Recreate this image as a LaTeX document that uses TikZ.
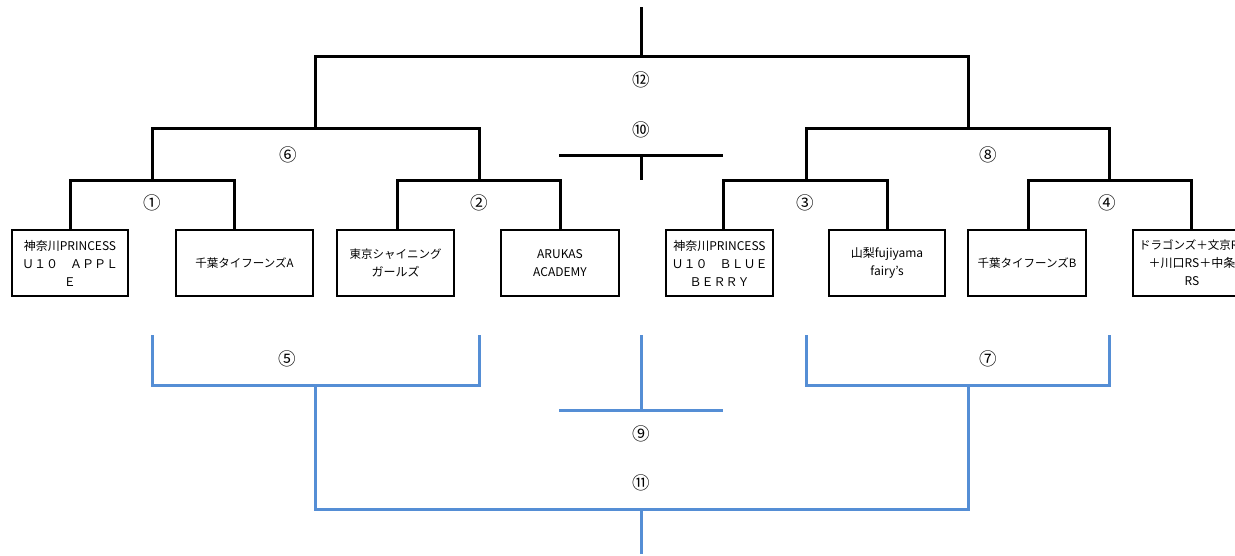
\documentclass[tikz,border=0pt]{standalone}
\usepackage{fontspec}
\setmainfont{Noto Sans CJK JP}
\definecolor{bblue}{RGB}{85,142,213}
\begin{document}
\begin{tikzpicture}[x=1pt,y=-1pt,
  bk/.style={line width=3pt,black},
  bl/.style={line width=3pt,bblue},
  team/.style={draw,line width=2.5pt,minimum height=66pt,inner sep=0pt,align=center,font=\fontsize{12}{18}\selectfont},
  num/.style={inner sep=0pt,font=\fontsize{17.5}{17.5}\selectfont}]
\useasboundingbox (0,0) rectangle (1235,555);
\clip (0,0) rectangle (1235,555);
% team boxes
\node[team,minimum width=116pt] (b1) at (70,263) {神奈川PRINCESS\\Ｕ１０　ＡＰＰＬ\\Ｅ};
\node[team,minimum width=137pt] (b2) at (244.5,263) {\fontsize{11.5}{18}\selectfont 千葉タイフーンズA};
\node[team,minimum width=117pt] (b3) at (395.5,263) {\fontsize{11.5}{18}\selectfont 東京シャイニング\\ガールズ};
\node[team,minimum width=118pt] (b4) at (560,263) {ARUKAS\\ACADEMY};
\node[team,minimum width=107pt] (b5) at (719.5,263) {神奈川PRINCESS\\Ｕ１０　ＢＬＵＥ\\ＢＥＲＲＹ};
\node[team,minimum width=116pt] (b6) at (887,263) {山梨fujiyama\\fairy’s};
\node[team,minimum width=118pt] (b7) at (1027,263) {\fontsize{11.5}{18}\selectfont 千葉タイフーンズB};
\node[team,minimum width=118pt] (b8) at (1192,263) {\fontsize{11.5}{18}\selectfont ドラゴンズ＋文京RS\\＋川口RS＋中条\\RS};
% coordinates
\coordinate (v1) at (70,180);  \coordinate (v2) at (234,180);
\coordinate (v3) at (397,180); \coordinate (v4) at (560,180);
\coordinate (v5) at (723,180); \coordinate (v6) at (887,180);
\coordinate (v7) at (1028,180);\coordinate (v8) at (1191,180);
\coordinate (j1) at (152,180); \coordinate (j2) at (479,180);
\coordinate (j3) at (806,180); \coordinate (j4) at (1109,180);
\coordinate (q6l) at (152,128); \coordinate (q6r) at (479,128);
\coordinate (q8l) at (806,128); \coordinate (q8r) at (1109,128);
\coordinate (s6) at (315,128); \coordinate (s8) at (968,128);
\coordinate (s12l) at (315,56); \coordinate (s12r) at (968,56);
\coordinate (t1) at (641,7); \coordinate (t2) at (641,56);
\coordinate (c10l) at (559,155); \coordinate (c10r) at (723,155);
\coordinate (c10a) at (641,155); \coordinate (c10b) at (641,180);
% black bracket lines
\draw[bk] (v1 |- b1.north) -- (v1) -- (v2) -- (v2 |- b2.north);
\draw[bk] (v3 |- b3.north) -- (v3) -- (v4) -- (v4 |- b4.north);
\draw[bk] (v5 |- b5.north) -- (v5) -- (v6) -- (v6 |- b6.north);
\draw[bk] (v7 |- b7.north) -- (v7) -- (v8) -- (v8 |- b8.north);
\draw[bk] (j1) -- (q6l) -- (q6r) -- (j2);
\draw[bk] (j3) -- (q8l) -- (q8r) -- (j4);
\draw[bk] (s6) -- (s12l) -- (s12r) -- (s8);
\draw[bk] (t1) -- (t2);
\draw[bk] (c10l) -- (c10r);
\draw[bk] (c10a) -- (c10b);
% blue coordinates
\coordinate (u1) at (152,335); \coordinate (u1b) at (152,385);
\coordinate (u2) at (479,335); \coordinate (u2b) at (479,385);
\coordinate (u3) at (806,335); \coordinate (u3b) at (806,385);
\coordinate (u4) at (1109,335); \coordinate (u4b) at (1109,385);
\coordinate (k5) at (315,385); \coordinate (k5b) at (315,509);
\coordinate (k7) at (968,385); \coordinate (k7b) at (968,509);
\coordinate (z1) at (641,335); \coordinate (z2) at (641,410);
\coordinate (zl) at (559,410); \coordinate (zr) at (723,410);
\coordinate (w1) at (641,509); \coordinate (w2) at (641,554);
% blue bracket lines
\draw[bl] (u1) -- (u1b) -- (u2b) -- (u2);
\draw[bl] (u3) -- (u3b) -- (u4b) -- (u4);
\draw[bl] (k5) -- (k5b) -- (k7b) -- (k7);
\draw[bl] (z1) -- (z2);
\draw[bl] (zl) -- (zr);
\draw[bl] (w1) -- (w2);
% match numbers
\node[num] (n12) at (641,80) {⑫};
\node[num] (n10) at (641,130) {⑩};
\node[num] (n6) at (288,155) {⑥};
\node[num] (n8) at (988,155) {⑧};
\node[num] (n1) at (152,203) {①};
\node[num] (n2) at (479,203) {②};
\node[num] (n3) at (805,203) {③};
\node[num] (n4) at (1107,203) {④};
\node[num] (n5) at (287,359) {⑤};
\node[num] (n7) at (988,359) {⑦};
\node[num] (n9) at (641,434) {⑨};
\node[num] (n11) at (641,483) {⑪};
\end{tikzpicture}
\end{document}
